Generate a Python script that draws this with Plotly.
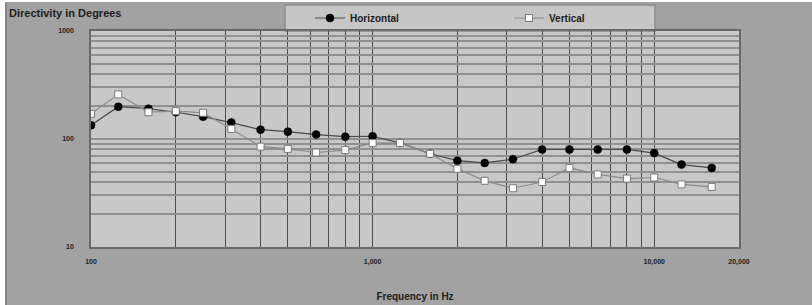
import plotly.graph_objects as go

# ---- data ----
freqs = [100, 125, 160, 200, 250, 315, 400, 500, 630, 800, 1000, 1250, 1600,
         2000, 2500, 3150, 4000, 5000, 6300, 8000, 10000, 12500, 16000]
horizontal = [134, 199, 191, 177, 161, 142, 122, 117, 110, 105, 106, 92, 73,
              63, 60, 65, 80, 80, 80, 80, 74, 58, 54]
vertical = [171, 259, 177, 181, 175, 124, 85, 81, 75, 79, 92, 92, 73,
            53, 41, 35, 40, 54, 47, 43, 44, 38, 36]

x_grid = [100, 200, 300, 400, 500, 600, 700, 800, 900, 1000,
          2000, 3000, 4000, 5000, 6000, 7000, 8000, 9000, 10000, 20000]
x_labels = {100: "100", 1000: "1,000", 10000: "10,000", 20000: "20,000"}
y_grid = [10, 20, 30, 40, 50, 60, 70, 80, 90, 100,
          200, 300, 400, 500, 600, 700, 800, 900, 1000]
y_labels = {10: "10", 100: "100", 1000: "1000"}

W, H = 812, 305
L, R, B = 91, 73, 58
PT = 31                      # plot top in pixels
pw = W - L - R
paper_h = H - B              # paper area spans from y=0 to y=H-B
ph = paper_h - PT

def px(xf):
    return (xf - L) / pw

def py(yf):
    return (paper_h - yf) / paper_h

FONT = "Liberation Sans"

fig = go.Figure()
fig.add_trace(go.Scatter(
    x=freqs, y=horizontal, name="Horizontal", mode="lines+markers",
    line=dict(color="#4a4a4a", width=1.2),
    marker=dict(symbol="circle", size=8, color="#000000",
                line=dict(color="#000000", width=0.5)),
))
fig.add_trace(go.Scatter(
    x=freqs, y=vertical, name="Vertical", mode="lines+markers",
    line=dict(color="#8a8a8a", width=1.2),
    marker=dict(symbol="square", size=7, color="#ffffff",
                line=dict(color="#7a7a7a", width=1)),
))

shapes = [
    # legend box
    dict(type="rect", xref="paper", yref="paper",
         x0=px(285), x1=px(655), y0=py(31), y1=py(5),
         fillcolor="#c6c6c6", line=dict(color="#8c8c8c", width=1.5),
         layer="below"),
    # white strips on the outer left and top edges
    dict(type="rect", xref="paper", yref="paper",
         x0=px(0), x1=px(5), y0=py(H), y1=py(0),
         fillcolor="#ffffff", line=dict(width=0), layer="below"),
    dict(type="rect", xref="paper", yref="paper",
         x0=px(0), x1=px(W), y0=py(2), y1=py(0),
         fillcolor="#ffffff", line=dict(width=0), layer="below"),
    dict(type="line", xref="paper", yref="paper",
         x0=px(6), x1=px(6), y0=py(H), y1=py(2),
         line=dict(color="#7a7a7a", width=1.5), layer="below"),
]

fig.update_layout(
    width=W, height=H,
    margin=dict(l=L, r=R, t=0, b=B, pad=0, autoexpand=False),
    paper_bgcolor="#a2a2a2",
    plot_bgcolor="#c8c8c8",
    shapes=shapes,
    title=dict(text="Directivity in Degrees", xref="container", yref="container",
               x=9 / W, xanchor="left", y=1 - 13 / H, yanchor="middle",
               font=dict(family=FONT, size=11, color="#202020", weight="bold")),
    showlegend=True,
    legend=dict(orientation="h", x=px(310), y=py(18), xanchor="left",
                yanchor="middle", bgcolor="rgba(0,0,0,0)",
                entrywidth=154, entrywidthmode="pixels",
                font=dict(family=FONT, size=10, color="#202020", weight="bold")),
    xaxis=dict(
        type="log", range=[2, 4.30103], automargin=False,
        tickmode="array", tickvals=x_grid,
        ticktext=[x_labels.get(v, "") for v in x_grid],
        showgrid=True, gridcolor="#4a4a4a", gridwidth=1,
        showline=True, linecolor="#6a6a6a", linewidth=1.5, mirror=True,
        ticks="", ticklabelstandoff=7,
        tickfont=dict(family=FONT, size=7, color="#202020", weight="bold"),
        title=dict(text="Frequency in Hz", standoff=28,
                   font=dict(family=FONT, size=10, color="#202020", weight="bold")),
        zeroline=False,
    ),
    yaxis=dict(
        type="log", range=[1, 3], automargin=False,
        domain=[0, ph / paper_h],
        tickmode="array", tickvals=y_grid,
        ticktext=[y_labels.get(v, "") for v in y_grid],
        showgrid=True, gridcolor="#909090", gridwidth=1.5,
        showline=True, linecolor="#6a6a6a", linewidth=1.5, mirror=True,
        ticks="", ticklabelstandoff=14,
        tickfont=dict(family=FONT, size=7, color="#202020", weight="bold"),
        zeroline=False,
    ),
)

fig.write_html("out.html", config={"displayModeBar": False},
               post_script="document.body.style.margin='0';")
